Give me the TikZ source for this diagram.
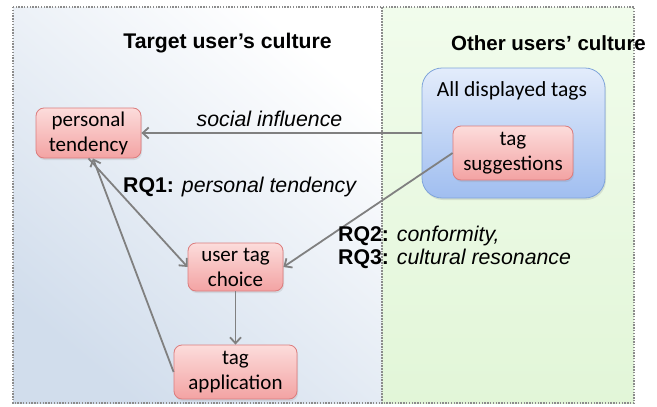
\documentclass[tikz,border=0pt]{standalone}
\usepackage{fontspec}
\setmainfont{Liberation Sans}
\newfontfamily\boxfont{Carlito}
\usetikzlibrary{arrows.meta,shadows}
\definecolor{arrgray}{HTML}{808080}
\definecolor{redtop}{HTML}{FCDCDB}
\definecolor{redbot}{HTML}{F3A3A3}
\definecolor{redline}{HTML}{DC7C7D}
\definecolor{bluetop}{HTML}{E3ECFB}
\definecolor{bluebot}{HTML}{A0BEF0}
\definecolor{blueline}{HTML}{7FA4DA}
\definecolor{panelline}{HTML}{8C8C8C}
\definecolor{leftbot}{HTML}{D1DDEC}
\definecolor{righttop}{HTML}{F1FCEC}
\definecolor{rightbot}{HTML}{E2F6D8}
\tikzset{
  panel/.style={draw=panelline, line width=1.1pt, dash pattern=on 1.4pt off 1.4pt},
  redbox/.style={draw=redline, line width=0.8pt, rounded corners=8pt, top color=redtop, bottom color=redbot,
    font=\boxfont\fontsize{21}{25}\selectfont, align=center, inner sep=0pt,
    drop shadow={opacity=0.18, shadow xshift=1pt, shadow yshift=-2pt}},
  bluebox/.style={draw=blueline, line width=0.8pt, rounded corners=20pt, top color=bluetop, bottom color=bluebot,
    inner sep=0pt, drop shadow={opacity=0.2, shadow xshift=1pt, shadow yshift=-2pt}},
  arr/.style={draw=arrgray, line width=1.8pt, -{Straight Barb[length=6pt,width=11pt]}},
  title/.style={font=\bfseries\fontsize{21.2}{24}\selectfont},
  lab/.style={font=\fontsize{21.3}{23}\selectfont, inner sep=0pt},
}
\begin{document}
\begin{tikzpicture}[x=1pt,y=-1pt]
\useasboundingbox (0,0) rectangle (657,407);
% panels
\shade[top color=white, bottom color=leftbot, shading angle=-40] (13,7) rectangle (382,403);
\shade[top color=righttop, bottom color=rightbot] (382,7) rectangle (634,403);
\draw[panel] (13,7) rectangle (382,403);
\draw[panel] (382,7) rectangle (634,403);
\node[title] (t1) at (227.5,43) {Target user’s culture};
\node[title, font=\bfseries\fontsize{20.5}{24}\selectfont] (t2) at (548.5,43) {Other users’ culture};
% boxes
\node[bluebox, minimum width=183pt, minimum height=130pt] (adt) at (513.5,133) {};
\node[font=\boxfont\fontsize{21.5}{25}\selectfont, inner sep=0pt] (adtl) at (512,91) {All displayed tags};
\node[redbox, minimum width=120pt, minimum height=54pt] (ts) at (513,153) {tag\\suggestions};
\node[redbox, minimum width=105pt, minimum height=50pt] (pt) at (88.5,133) {personal\\tendency};
\node[redbox, minimum width=95pt, minimum height=48pt] (utc) at (235.5,267) {user tag\\choice};
\node[redbox, minimum width=123pt, minimum height=54pt] (ta) at (235.5,372) {tag\\application};
% connectors
\draw[arr] (adt.west) -- (pt.east);
\draw[arr] (pt.south) -- (utc.west);
\draw[arr] (ta.west) -- (pt.280);
\draw[arr] (ts.west) -- (utc.east);
\draw[arr] (utc.south) -- (ta.north);
% labels
\node[lab] (l1) at (269.5,119) {\itshape social influence};
\node[lab, anchor=west] (l2) at (123,187) {\textbf{RQ1:} \textit{personal tendency}};
\node[lab, anchor=north west, align=left] (l3) at (338,226) {\textbf{RQ2:} \textit{conformity,}\\\textbf{RQ3:} \textit{cultural resonance}};
\end{tikzpicture}
\end{document}
